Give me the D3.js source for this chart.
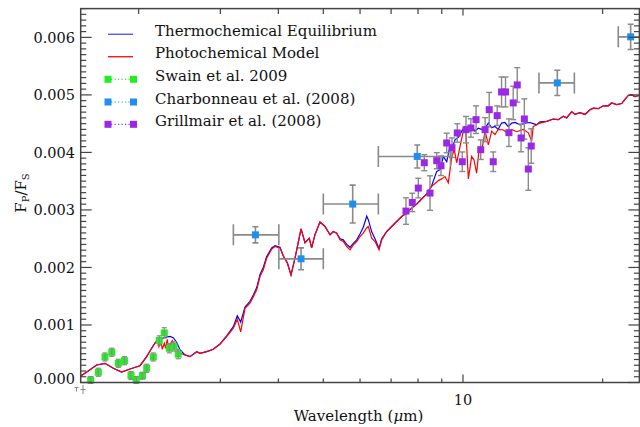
<!DOCTYPE html>
<html><head><meta charset="utf-8">
<script src="https://cdn.jsdelivr.net/npm/d3@7"></script>
<style>body{margin:0;background:#fff}svg{display:block}</style>
</head><body>
<svg id="chart" width="640" height="427"></svg>
<script>
// ---- data (flux values in units of 1e-3) ----
const photoWl = [1.495,1.557,1.624,1.692,1.764,1.838,1.916,2.013,2.081,2.134,2.169,2.198,2.212,2.234,2.248,2.271,2.287,2.305,2.321,2.344,2.363,2.387,2.415,2.443,2.517,2.580,2.668,2.712,2.803,2.896,2.995,3.095,3.199,3.263,3.318,3.390,3.475,3.533,3.593,3.652,3.712,3.775,3.870,3.934,4.033,4.100,4.182,4.259,4.345,4.477,4.566,4.663,4.718,4.797,4.918,5.042,5.169,5.254,5.344,5.432,5.521,5.616,5.708,5.803,5.900,5.998,6.097,6.202,6.251,6.357,6.462,6.592,6.681,6.849,7.02,7.195,7.377,7.562,7.752,7.947,8.078,8.352,8.562,8.705,8.848,8.998,9.146,9.297,9.454,9.578,9.692,9.852,10.01,10.15,10.27,10.44,10.56,10.70,10.84,10.97,11.16,11.34,11.53,11.72,11.91,12.22,12.52,12.74,13.05,13.49,13.83,14.06,14.17,14.65,15.15,15.65,16.05,16.45,16.73,17.15,17.43,17.87,18.32,18.78,19.09,19.57,20.06,20.56,20.91,21.44,21.98,22.34,22.71,23.10,23.48,23.95];
const photoFlux = [0.104,0.200,0.305,0.334,0.247,0.180,0.235,0.292,0.449,0.595,0.682,0.740,0.623,0.710,0.578,0.682,0.595,0.752,0.566,0.682,0.728,0.653,0.578,0.519,0.479,0.449,0.536,0.508,0.536,0.578,0.670,0.797,0.943,1.10,0.88,1.29,1.379,1.493,1.610,1.842,1.958,2.162,2.319,2.364,2.336,2.20,2.08,1.871,2.162,2.67,2.43,2.51,2.34,2.57,2.79,2.712,2.567,2.625,2.597,2.480,2.451,2.364,2.306,2.393,2.451,2.538,2.597,2.69,2.712,2.510,2.451,2.306,2.480,2.625,2.712,2.799,2.886,2.945,3.032,3.10,3.16,3.28,3.41,3.46,3.51,3.54,3.58,3.47,3.91,4.05,3.82,4.10,4.36,4.34,3.54,3.93,3.87,3.64,4.08,4.02,4.37,4.13,4.37,4.31,4.40,4.39,4.33,4.40,4.36,4.40,4.34,4.20,4.45,4.51,4.54,4.58,4.57,4.63,4.60,4.71,4.66,4.69,4.66,4.74,4.77,4.76,4.81,4.81,4.86,4.83,4.85,4.92,4.99,5.00,4.97,4.99];

const thermoWl = [1.495,1.557,1.624,1.692,1.764,1.838,1.916,2.013,2.081,2.134,2.169,2.198,2.242,2.291,2.336,2.374,2.415,2.455,2.517,2.580,2.668,2.712,2.803,2.896,2.995,3.095,3.199,3.263,3.318,3.390,3.475,3.533,3.593,3.652,3.712,3.775,3.870,3.934,4.033,4.100,4.182,4.259,4.345,4.477,4.566,4.663,4.718,4.797,4.918,5.042,5.169,5.254,5.344,5.432,5.521,5.616,5.708,5.803,5.900,5.998,6.097,6.202,6.251,6.357,6.462,6.592,6.681,6.849,7.02,7.195,7.377,7.562,7.752,7.947,8.078,8.352,8.562,8.778,8.924,9.07,9.224,9.375,9.53,9.612,9.77,9.94,10.01,10.10,10.27,10.44,10.61,10.79,10.97,11.16,11.34,11.53,11.72,11.91,12.11,12.31,12.52,12.74,12.95,13.27,13.60,13.94,14.17,14.41,14.65,15.15,15.65,16.05,16.45,16.73,17.15,17.43,17.87,18.32,18.78,19.09,19.57,20.06,20.56,20.91,21.44,21.98,22.34,22.71,23.10,23.48,23.95];
const thermoFlux = [0.104,0.200,0.305,0.334,0.247,0.180,0.235,0.292,0.449,0.60,0.69,0.74,0.76,0.79,0.80,0.78,0.70,0.57,0.48,0.449,0.536,0.508,0.536,0.578,0.670,0.81,0.97,1.16,1.05,1.31,1.41,1.52,1.65,1.88,2.00,2.19,2.34,2.38,2.35,2.20,2.08,1.871,2.162,2.67,2.43,2.51,2.34,2.57,2.79,2.712,2.567,2.625,2.597,2.50,2.48,2.40,2.35,2.42,2.48,2.58,2.70,2.89,2.83,2.62,2.50,2.33,2.50,2.625,2.712,2.799,2.886,2.945,3.032,3.10,3.16,3.28,3.42,3.67,3.70,3.93,3.84,4.10,4.13,4.22,4.26,4.37,4.41,4.45,4.36,4.45,4.37,4.42,4.40,4.42,4.51,4.43,4.45,4.40,4.51,4.52,4.45,4.51,4.52,4.48,4.51,4.52,4.50,4.48,4.53,4.54,4.58,4.57,4.63,4.60,4.71,4.66,4.69,4.66,4.74,4.77,4.76,4.81,4.81,4.86,4.83,4.85,4.92,4.99,5.00,4.97,4.99];

// Swain et al. 2009
const swainWl   = [1.576,1.637,1.692,1.750,1.808,1.864,1.925,1.976,2.038,2.081,2.150,2.215,2.271,2.328,2.384,2.434];
const swainFlux = [0.044,0.178,0.444,0.526,0.334,0.379,0.122,0.044,0.118,0.247,0.444,0.731,0.862,0.595,0.627,0.493];
const swainErr  = [0.06,0.07,0.07,0.07,0.07,0.07,0.07,0.06,0.06,0.07,0.07,0.08,0.09,0.08,0.08,0.08];

// Charbonneau et al. (2008)
const charbWl    = [3.57,4.477,5.785,7.97,15.97,22.98];
const charbWlLo  = [3.20,4.01,5.00,6.57,14.58,21.61];
const charbWlHi  = [4.01,5.00,6.57,9.40,17.38,26.0];
const charbFlux  = [2.567,2.150,3.102,3.930,5.208,6.009];
const charbErr   = [0.14,0.19,0.33,0.20,0.22,0.22];

// Grillmair et al. (2008)
const grillWl   = [7.536,7.775,8.011,8.253,8.490,8.778,8.965,9.224,9.469,9.721,9.965,10.15,10.40,10.67,10.92,11.16,11.39,11.62,11.85,12.11,12.35,12.56,12.83,13.09,13.34,13.56,13.83,14.03];
const grillFlux = [2.980,3.130,3.380,3.821,3.293,3.856,3.768,4.164,4.082,4.338,3.838,4.395,4.425,4.569,4.047,4.395,4.743,3.838,4.639,5.051,5.051,4.343,4.860,5.173,4.251,4.581,3.711,4.111];
const grillErr  = [0.23,0.16,0.17,0.14,0.30,0.14,0.17,0.17,0.17,0.16,0.17,0.23,0.16,0.24,0.17,0.21,0.30,0.17,0.17,0.26,0.26,0.24,0.29,0.30,0.24,0.35,0.37,0.30];

const yMajorTicks = [0,1,2,3,4,5,6];
const yTickLabels = ["0.000","0.001","0.002","0.003","0.004","0.005","0.006"];
const xBottomTicks = [3,4,5,6,7,8,9,10,20];
const xTopTicks = [2,3,4,5,6,7,8,9,10,20];
const xTickLabels = [{v:10, t:"10"}];

const legendItems = [
  {label:"Thermochemical Equilibrium", type:"line", color:"#0000ff"},
  {label:"Photochemical Model", type:"line", color:"#ff0000"},
  {label:"Swain et al. 2009", type:"sym", color:"#22ee22"},
  {label:"Charbonneau et al. (2008)", type:"sym", color:"#1e8ff0"},
  {label:"Grillmair et al. (2008)", type:"sym", color:"#9b28e6"}
];

// ---- layout ----
const L = 80.7, R = 639.4, T = 8.6, B = 382.5;
const svg = d3.select("#chart");
const x = d3.scaleLog().domain([1.5, 24]).range([L, R]);
const y = d3.scaleLinear().domain([0, 6.5]).range([B, T]);
const FONT = "'DejaVu Serif', serif";
const AX = "#444";
const ERR = "#8a8a8a";

svg.append("defs").append("clipPath").attr("id","clip")
  .append("rect").attr("x",L).attr("y",T).attr("width",R-L).attr("height",B-T);

// curves
const line = d3.line().x(d=>x(d[0])).y(d=>y(d[1]));
const gc = svg.append("g").attr("clip-path","url(#clip)");
gc.append("path").datum(thermoWl.map((w,i)=>[w,thermoFlux[i]]))
  .attr("d",line).attr("fill","none").attr("stroke","#0000ff").attr("stroke-width",1.2);
gc.append("path").datum(photoWl.map((w,i)=>[w,photoFlux[i]]))
  .attr("d",line).attr("fill","none").attr("stroke","#ff0000").attr("stroke-width",1.2);

// Charbonneau
const gch = svg.append("g").attr("clip-path","url(#clip)");
charbWl.forEach((w,i)=>{
  const cx=x(w), cy=y(charbFlux[i]), x0=x(charbWlLo[i]), x1=x(charbWlHi[i]);
  const y0=y(charbFlux[i]-charbErr[i]), y1=y(charbFlux[i]+charbErr[i]);
  const g=gch.append("g").attr("stroke",ERR).attr("stroke-width",1.6);
  g.append("line").attr("x1",x0).attr("x2",x1).attr("y1",cy).attr("y2",cy);
  g.append("line").attr("x1",x0).attr("x2",x0).attr("y1",cy-10.5).attr("y2",cy+10.5);
  g.append("line").attr("x1",x1).attr("x2",x1).attr("y1",cy-10.5).attr("y2",cy+10.5);
  g.append("line").attr("x1",cx).attr("x2",cx).attr("y1",y0).attr("y2",y1);
  g.append("line").attr("x1",cx-3).attr("x2",cx+3).attr("y1",y0).attr("y2",y0);
  g.append("line").attr("x1",cx-3).attr("x2",cx+3).attr("y1",y1).attr("y2",y1);
  gch.append("rect").attr("x",cx-3.5).attr("y",cy-3.5).attr("width",7).attr("height",7).attr("fill","#1e8ff0");
});

// Grillmair
const gg = svg.append("g");
grillWl.forEach((w,i)=>{
  const cx=x(w), cy=y(grillFlux[i]);
  const y0=y(grillFlux[i]-grillErr[i]), y1=y(grillFlux[i]+grillErr[i]);
  const g=gg.append("g").attr("stroke",ERR).attr("stroke-width",1.4);
  g.append("line").attr("x1",cx).attr("x2",cx).attr("y1",y0).attr("y2",y1);
  g.append("line").attr("x1",cx-3).attr("x2",cx+3).attr("y1",y0).attr("y2",y0);
  g.append("line").attr("x1",cx-3).attr("x2",cx+3).attr("y1",y1).attr("y2",y1);
});
grillWl.forEach((w,i)=>{
  const cx=x(w), cy=y(grillFlux[i]);
  gg.append("rect").attr("x",cx-3.5).attr("y",cy-3.5).attr("width",7).attr("height",7).attr("fill","#9b28e6");
});

// Swain (error bars on top)
const gs = svg.append("g");
swainWl.forEach((w,i)=>{
  const cx=x(w), cy=y(swainFlux[i]);
  gs.append("rect").attr("x",cx-3.5).attr("y",cy-3.5).attr("width",7).attr("height",7).attr("fill","#22ee22");
});
swainWl.forEach((w,i)=>{
  const cx=x(w);
  const y0=y(swainFlux[i]-swainErr[i]), y1=y(swainFlux[i]+swainErr[i]);
  const g=gs.append("g").attr("stroke",ERR).attr("stroke-width",1.2);
  g.append("line").attr("x1",cx).attr("x2",cx).attr("y1",y0).attr("y2",y1);
  g.append("line").attr("x1",cx-2.5).attr("x2",cx+2.5).attr("y1",y0).attr("y2",y0);
  g.append("line").attr("x1",cx-2.5).attr("x2",cx+2.5).attr("y1",y1).attr("y2",y1);
});

// frame + ticks
const ga = svg.append("g").attr("stroke",AX).attr("stroke-width",1.5).attr("fill","none");
ga.append("rect").attr("x",L).attr("y",T).attr("width",R-L).attr("height",B-T);
const yMinor = d3.range(0,66).map(k=>k/10);
yMinor.forEach(v=>{
  const major = Math.abs(v-Math.round(v))<1e-9;
  const len = major?11:5.5;
  ga.append("line").attr("x1",L).attr("x2",L+len).attr("y1",y(v)).attr("y2",y(v)).attr("stroke-width",1.2);
  ga.append("line").attr("x1",R).attr("x2",R-len).attr("y1",y(v)).attr("y2",y(v)).attr("stroke-width",1.2);
});
xBottomTicks.forEach(v=>{
  const len = v===10?8:4;
  ga.append("line").attr("x1",x(v)).attr("x2",x(v)).attr("y1",B).attr("y2",B-len).attr("stroke-width",1.2);
});
xTopTicks.forEach(v=>{
  const len = v===10?7:5.5;
  ga.append("line").attr("x1",x(v)).attr("x2",x(v)).attr("y1",T).attr("y2",T+len).attr("stroke-width",1.2);
});
// small marks under the origin
ga.append("path").attr("d","M74.5,387.5h4M76.5,387.5v4M83,385v9M80.5,389.5h5").attr("stroke","#888").attr("stroke-width",1);

// tick labels
const gt = svg.append("g").attr("font-family",FONT).attr("font-size","14.5px").attr("fill","#111");
yMajorTicks.forEach((v,i)=>{
  gt.append("text").attr("x",75).attr("y",Math.min(y(v)+5.3,383.6)).attr("text-anchor","end").text(yTickLabels[i]);
});
xTickLabels.forEach(d=>{
  gt.append("text").attr("x",x(d.v)).attr("y",404.5).attr("text-anchor","middle").text(d.t);
});

// axis titles
const xl = svg.append("text").attr("font-family",FONT).attr("font-size","15px").attr("fill","#111")
  .attr("x",358.5).attr("y",421).attr("text-anchor","middle");
xl.append("tspan").text("Wavelength (");
xl.append("tspan").attr("font-style","italic").text("\u03bc");
xl.append("tspan").text("m)");

const yl = svg.append("text").attr("font-family",FONT).attr("font-size","15px").attr("fill","#111")
  .attr("transform","translate(26,193) rotate(-90)").attr("text-anchor","middle");
yl.append("tspan").text("F");
yl.append("tspan").attr("font-size","10px").attr("dy",3).text("P");
yl.append("tspan").attr("dy",-3).text("/F");
yl.append("tspan").attr("font-size","10px").attr("dy",3).text("S");

// legend
const legY = [34.3,56.7,79.3,102,124.3];
const gl = svg.append("g");
legendItems.forEach((it,i)=>{
  const yy = legY[i];
  if(it.type==="line"){
    gl.append("line").attr("x1",108).attr("x2",133).attr("y1",yy).attr("y2",yy)
      .attr("stroke",it.color).attr("stroke-width",1.4).attr("opacity",i===0?0.65:0.9);
  } else {
    gl.append("line").attr("x1",111).attr("x2",130).attr("y1",yy).attr("y2",yy)
      .attr("stroke",it.color).attr("stroke-width",1.2).attr("stroke-dasharray","1.2,2.3");
    gl.append("rect").attr("x",104.5).attr("y",yy-3.5).attr("width",7).attr("height",7).attr("fill",it.color);
    gl.append("rect").attr("x",130).attr("y",yy-3.5).attr("width",7).attr("height",7).attr("fill",it.color);
  }
  gl.append("text").attr("x",155).attr("y",yy+1.6).attr("font-family",FONT).attr("font-size","15px")
    .attr("fill","#111").text(it.label);
});
</script>
</body></html>
